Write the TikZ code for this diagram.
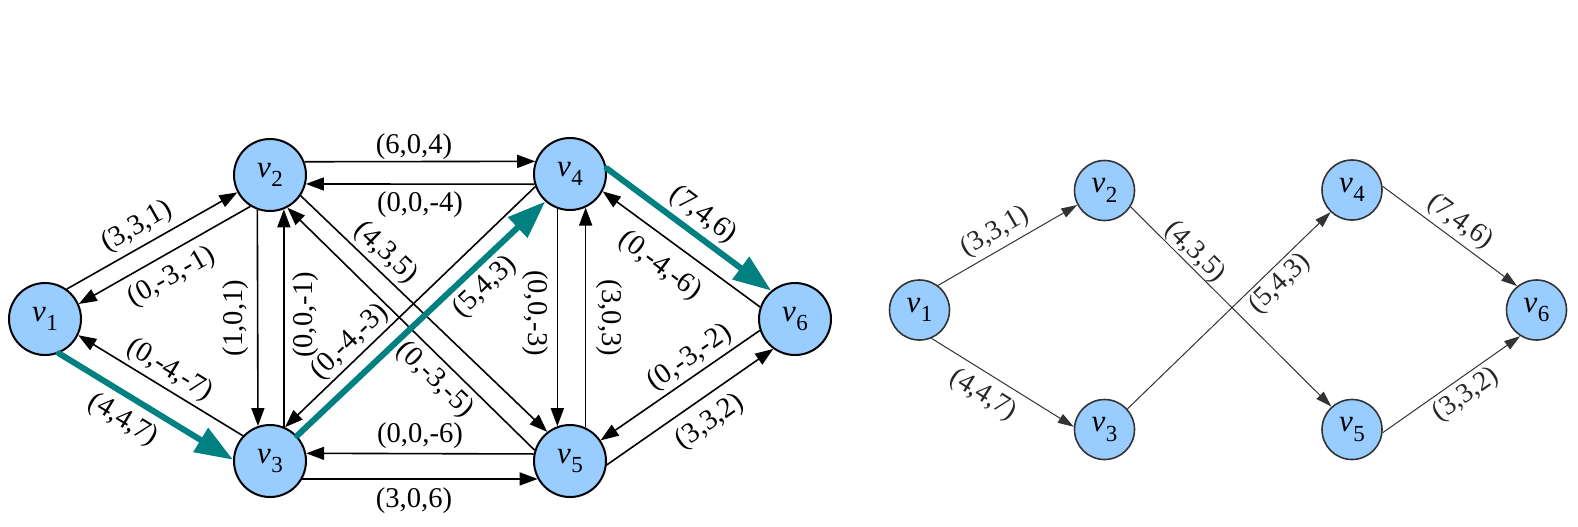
\documentclass[tikz,border=0pt]{standalone}
\usepackage{fontspec}
\setmainfont{Liberation Serif}
\usetikzlibrary{arrows.meta}
\definecolor{nodeblue}{RGB}{153,204,255}
\definecolor{pathteal}{RGB}{0,128,128}
\newcommand\labsize{\fontsize{14.3}{17}\selectfont}
\newcommand\rlabsize{\fontsize{13.8}{16}\selectfont}
\newcommand\vsub[1]{{\fontsize{15.5}{18}\selectfont\textit{v}\kern0.2pt\raisebox{-0.3em}{\fontsize{11.5}{12}\selectfont #1}}}
\begin{document}
\begin{tikzpicture}[x=0.5pt,y=-0.5pt,
  vnode/.style={circle, draw=black, line width=1pt, fill=nodeblue, minimum size=36pt, inner sep=0pt},
  rnode/.style={circle, draw=black!80, line width=0.8pt, fill=nodeblue, minimum size=30pt, inner sep=0pt},
  edge/.style={line width=0.8pt, -{Triangle[length=9pt,width=6.5pt]}},
  tealedge/.style={line width=3pt, draw=pathteal, line cap=round, -{Triangle[length=19pt,width=13.5pt]}},
  redge/.style={line width=0.5pt, draw=black!80, -{Triangle[length=8pt,width=5pt]}},
  lab/.style={font=\labsize, inner sep=0pt},
  rlab/.style={font=\rlabsize, inner sep=0pt, text=black!85}]
\useasboundingbox (0,0) rectangle (1578,526);

% ---------- left graph ----------
\node[vnode] (v1) at (45,319) {\vsub{1}};
\node[vnode] (v2) at (270,175) {\vsub{2}};
\node[vnode] (v3) at (270,461) {\vsub{3}};
\node[vnode] (v4) at (570,174) {\vsub{4}};
\node[vnode] (v5) at (570,461) {\vsub{5}};
\node[vnode] (v6) at (795,319) {\vsub{6}};

\draw[edge] (v1.54.6) -- (v2.208.6);
\draw[edge] (v2.238) -- (v1.24.1);
\draw[tealedge] (v1.-68.8) -- (v3.178.5);
\draw[edge] (v3.137.1) -- (v1.-26.6);
\draw[edge] (v2.250.6) -- (v3.109.4);
\draw[edge] (v3.68.9) -- (v2.-68.9);
\draw[edge] (v2.21.1) -- (v4.160.6);
\draw[edge] (v4.196.2) -- (v2.-14.6);
\draw[edge] (v2.-34.5) -- (v5.128.9);
\draw[edge] (v5.163.4) -- (v2.-62);
\draw[tealedge] (v3.43.8) -- (v4.228.9);
\draw[edge] (v4.200.2) -- (v3.66.2);
\draw[edge] (v4.250) -- (v5.110);
\draw[edge] (v5.65) -- (v4.-65);
\draw[edge] (v3.-29.1) -- (v5.209.1);
\draw[edge] (v5.169) -- (v3.12.5);
\draw[tealedge] (v4.9.7) -- (v6.130.8);
\draw[edge] (v6.161.1) -- (v4.-28.5);
\draw[edge] (v5.-6.2) -- (v6.234.6);
\draw[edge] (v6.198.9) -- (v5.34.4);

\node[lab, rotate=29.5] (l12) at (137,227) {(3,3,1)};
\node[lab, rotate=29.5] (l21) at (172,277) {(0,-3,-1)};
\node[lab, rotate=-31.4] (l13) at (123,420) {(4,4,7)};
\node[lab, rotate=-31.4] (l31) at (170,370) {(0,-4,-7)};
\node[lab, rotate=90] (l23) at (236,318) {(1,0,1)};
\node[lab, rotate=90] (l32) at (306,315) {(0,0,-1)};
\node[lab] (l24) at (414,147) {(6,0,4)};
\node[lab] (l42) at (420,205) {(0,0,-4)};
\node[lab, rotate=-44] (l25) at (386,253) {(4,3,5)};
\node[lab, rotate=-44] (l52) at (435,380) {(0,-3,-5)};
\node[lab, rotate=44] (l43) at (350,342) {(0,-4,-3)};
\node[lab, rotate=44] (l34) at (485,287) {(5,4,3)};
\node[lab, rotate=-90] (l45) at (535,313) {(0,0,-3)};
\node[lab, rotate=-90] (l54) at (609.5,318) {(3,0,3)};
\node[lab] (l53) at (420,436) {(0,0,-6)};
\node[lab] (l35) at (414,501) {(3,0,6)};
\node[lab, rotate=-37] (l46) at (703,215) {(7,4,6)};
\node[lab, rotate=-37] (l64) at (660,266) {(0,-4,-6)};
\node[lab, rotate=35] (l65) at (690,358) {(0,-3,-2)};
\node[lab, rotate=35] (l56) at (710,422) {(3,3,2)};

% ---------- right graph ----------
\node[rnode] (r1) at (919.5,310) {\vsub{1}};
\node[rnode] (r2) at (1104.5,190.5) {\vsub{2}};
\node[rnode] (r3) at (1104.5,429.5) {\vsub{3}};
\node[rnode] (r4) at (1352,190) {\vsub{4}};
\node[rnode] (r5) at (1352,429.5) {\vsub{5}};
\node[rnode] (r6) at (1536.5,310) {\vsub{6}};

\draw[redge] (r1.53) -- (r2.208);
\draw[redge] (r1.-67.4) -- (r3.175.5);
\draw[redge] (r2.-32.5) -- (r5.132);
\draw[redge] (r3.42.6) -- (r4.226);
\draw[redge] (r4.7) -- (r6.129);
\draw[redge] (r5.-6) -- (r6.238.6);

\node[rlab, rotate=30] (q12) at (995,232) {(3,3,1)};
\node[rlab, rotate=-32] (q13) at (983,395) {(4,4,7)};
\node[rlab, rotate=-45] (q25) at (1195,252) {(4,3,5)};
\node[rlab, rotate=44] (q34) at (1280,284) {(5,4,3)};
\node[rlab, rotate=-36.5] (q46) at (1460,222) {(7,4,6)};
\node[rlab, rotate=35] (q56) at (1466,395) {(3,3,2)};
\end{tikzpicture}
\end{document}
